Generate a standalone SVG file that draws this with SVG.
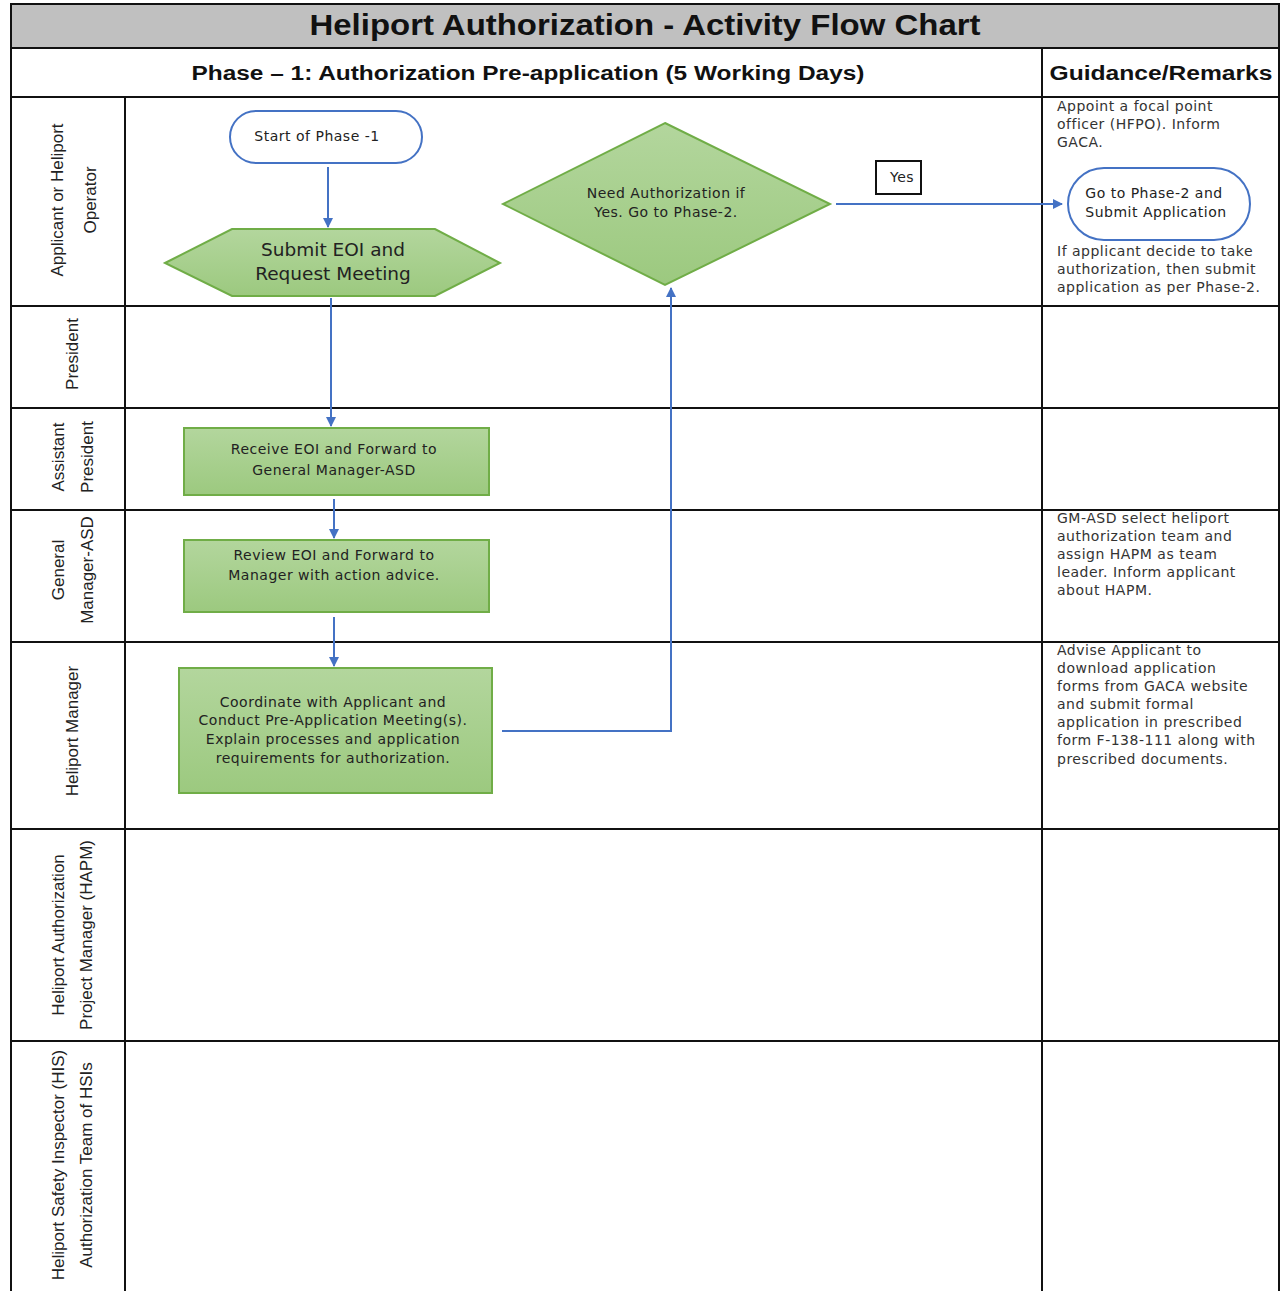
<svg xmlns="http://www.w3.org/2000/svg" width="1281" height="1291" viewBox="0 0 1281 1291">
  <defs>
    <linearGradient id="green" x1="0" y1="0" x2="0" y2="1">
      <stop offset="0" stop-color="#b3d69d"/>
      <stop offset="1" stop-color="#9cc97f"/>
    </linearGradient>
    <marker id="arrow" viewBox="0 0 10 10" refX="9" refY="5" markerWidth="10" markerHeight="10" markerUnits="userSpaceOnUse" orient="auto">
      <path d="M0,0 L10,5 L0,10 z" fill="#4472c4"/>
    </marker>
  </defs>
  <style>
    .grid { stroke: #111; stroke-width: 2; fill: none; }
    .head { font-family: "Liberation Sans", Arial, sans-serif; font-weight: bold; fill: #111; text-anchor: middle; }
    .lane { font-family: "Liberation Sans", Arial, sans-serif; font-size: 17px; fill: #222; text-anchor: middle; }
    .proc { fill: url(#green); stroke: #70ad47; stroke-width: 2; }
    .term { fill: #fff; stroke: #4472c4; stroke-width: 2; }
    .t { font-family: "DejaVu Sans", sans-serif; font-size: 14px; letter-spacing: 0.5px; fill: #222; text-anchor: middle; }
    .big { font-family: "DejaVu Sans", sans-serif; font-size: 18.5px; fill: #222; text-anchor: middle; }
    .note { font-family: "DejaVu Sans", sans-serif; font-size: 14px; letter-spacing: 0.5px; fill: #333; }
    .conn { stroke: #4472c4; stroke-width: 2; fill: none; }
  </style>

  <rect width="1281" height="1291" fill="#fff"/>

  <!-- table frame -->
  <g id="table">
    <rect x="11" y="4" width="1268" height="44" fill="#c0c0c0" stroke="#111" stroke-width="2"/>
    <text class="head" x="645" y="35" font-size="30" textLength="671" lengthAdjust="spacingAndGlyphs">Heliport Authorization - Activity Flow Chart</text>
    <path class="grid" d="M11,48 V1291 M1279,48 V1291 M1042,48 V1291 M125,97 V1291
      M11,97 H1279 M11,306 H1279 M11,408 H1279 M11,510 H1279 M11,642 H1279 M11,829 H1279 M11,1041 H1279"/>
    <text class="head" x="528" y="80" font-size="20" textLength="673" lengthAdjust="spacingAndGlyphs">Phase – 1: Authorization Pre-application (5 Working Days)</text>
    <text class="head" x="1161" y="80" font-size="20" textLength="223" lengthAdjust="spacingAndGlyphs">Guidance/Remarks</text>
  </g>

  <!-- swimlane labels -->
  <g id="lanes">
    <text class="lane" transform="translate(63,200) rotate(-90)">Applicant or Heliport</text>
    <text class="lane" transform="translate(96,200) rotate(-90)">Operator</text>
    <text class="lane" transform="translate(78,354) rotate(-90)">President</text>
    <text class="lane" transform="translate(64,457) rotate(-90)">Assistant</text>
    <text class="lane" transform="translate(93,457) rotate(-90)">President</text>
    <text class="lane" transform="translate(64,570) rotate(-90)">General</text>
    <text class="lane" transform="translate(93,570) rotate(-90)">Manager-ASD</text>
    <text class="lane" transform="translate(78,731) rotate(-90)">Heliport Manager</text>
    <text class="lane" transform="translate(64,935) rotate(-90)">Heliport Authorization</text>
    <text class="lane" transform="translate(92,935) rotate(-90)">Project Manager (HAPM)</text>
    <text class="lane" transform="translate(64,1165) rotate(-90)">Heliport Safety Inspector (HIS)</text>
    <text class="lane" transform="translate(92,1165) rotate(-90)">Authorization Team of HSIs</text>
  </g>

  <!-- connectors -->
  <g id="connectors">
    <path class="conn" d="M328,167 V227" marker-end="url(#arrow)"/>
    <path class="conn" d="M331,298 V426" marker-end="url(#arrow)"/>
    <path class="conn" d="M334,499 V538" marker-end="url(#arrow)"/>
    <path class="conn" d="M334,617 V666" marker-end="url(#arrow)"/>
    <path class="conn" d="M502,731 H671 V288" marker-end="url(#arrow)"/>
    <path class="conn" d="M836,204 H1062" marker-end="url(#arrow)"/>
  </g>

  <!-- nodes -->
  <g id="start">
    <rect class="term" x="230" y="111" width="192" height="52" rx="26"/>
    <text class="t" x="317" y="141">Start of Phase -1</text>
  </g>

  <g id="submit-eoi">
    <polygon class="proc" points="165,263 232,229 435,229 500,263 435,296 232,296"/>
    <text class="big" x="333" y="256">Submit EOI and</text>
    <text class="big" x="333" y="280">Request Meeting</text>
  </g>

  <g id="need-authorization">
    <polygon class="proc" points="665,123 830,204 665,285 503,204"/>
    <text class="t" x="666" y="198">Need Authorization if</text>
    <text class="t" x="666" y="217">Yes. Go to Phase-2.</text>
  </g>

  <g id="yes-label">
    <rect x="876" y="161" width="45" height="33" fill="#fff" stroke="#111" stroke-width="2"/>
    <text class="t" x="902" y="182">Yes</text>
  </g>

  <g id="phase-2">
    <rect class="term" x="1068" y="168" width="182" height="72" rx="36"/>
    <text class="t" x="1154" y="198">Go to Phase-2 and</text>
    <text class="t" x="1156" y="217">Submit Application</text>
  </g>

  <g id="receive-eoi">
    <rect class="proc" x="184" y="428" width="305" height="67"/>
    <text class="t" x="334" y="454">Receive EOI and Forward to</text>
    <text class="t" x="334" y="475">General Manager-ASD</text>
  </g>

  <g id="review-eoi">
    <rect class="proc" x="184" y="540" width="305" height="72"/>
    <text class="t" x="334" y="560">Review EOI and Forward to</text>
    <text class="t" x="334" y="580">Manager with action advice.</text>
  </g>

  <g id="coordinate">
    <rect class="proc" x="179" y="668" width="313" height="125"/>
    <text class="t" x="333" y="707">Coordinate with Applicant and</text>
    <text class="t" x="333" y="725">Conduct Pre-Application Meeting(s).</text>
    <text class="t" x="333" y="744">Explain processes and application</text>
    <text class="t" x="333" y="763">requirements for authorization.</text>
  </g>

  <!-- guidance notes -->
  <g id="notes">
    <text class="note" x="1057" y="111">Appoint a focal point</text>
    <text class="note" x="1057" y="129">officer (HFPO). Inform</text>
    <text class="note" x="1057" y="147">GACA.</text>
    <text class="note" x="1057" y="256">If applicant decide to take</text>
    <text class="note" x="1057" y="274">authorization, then submit</text>
    <text class="note" x="1057" y="292">application as per Phase-2.</text>
    <text class="note" x="1057" y="523">GM-ASD select heliport</text>
    <text class="note" x="1057" y="541">authorization team and</text>
    <text class="note" x="1057" y="559">assign HAPM as team</text>
    <text class="note" x="1057" y="577">leader. Inform applicant</text>
    <text class="note" x="1057" y="595">about HAPM.</text>
    <text class="note" x="1057" y="655">Advise Applicant to</text>
    <text class="note" x="1057" y="673">download application</text>
    <text class="note" x="1057" y="691">forms from GACA website</text>
    <text class="note" x="1057" y="709">and submit formal</text>
    <text class="note" x="1057" y="727">application in prescribed</text>
    <text class="note" x="1057" y="745">form F-138-111 along with</text>
    <text class="note" x="1057" y="764">prescribed documents.</text>
  </g>
</svg>
